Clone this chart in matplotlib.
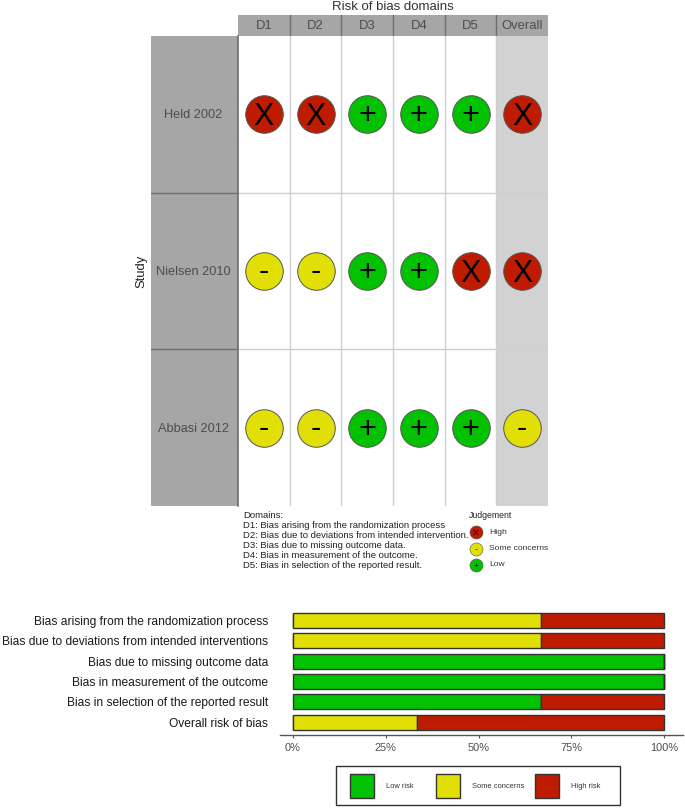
import numpy as np
import matplotlib
matplotlib.use("Agg")
import matplotlib.pyplot as plt
from matplotlib.patches import Rectangle

plt.rcParams["font.family"] = ["Liberation Sans", "DejaVu Sans"]

W, H = 685, 808
studies = ["Held 2002", "Nielsen 2010", "Abbasi 2012"]
domains = ["D1", "D2", "D3", "D4", "D5", "Overall"]
held = ["High", "High", "Low", "Low", "Low", "High"]
nielsen = ["Some", "Some", "Low", "Low", "High", "High"]
abbasi = ["Some", "Some", "Low", "Low", "Low", "Some"]
judgements = [held, nielsen, abbasi]

domain_notes = ["Domains:",
                "D1: Bias arising from the randomization process",
                "D2: Bias due to deviations from intended intervention.",
                "D3: Bias due to missing outcome data.",
                "D4: Bias in measurement of the outcome.",
                "D5: Bias in selection of the reported result."]

bar_labels = ["Bias arising from the randomization process",
              "Bias due to deviations from intended interventions",
              "Bias due to missing outcome data",
              "Bias in measurement of the outcome",
              "Bias in selection of the reported result",
              "Overall risk of bias"]
low_pct = [0, 0, 100, 100, 66.7, 0]
some_pct = [66.7, 66.7, 0, 0, 0, 33.3]
high_pct = [33.3, 33.3, 0, 0, 33.3, 66.7]

colors = {"High": "#BF1B00", "Some": "#E2DF07", "Low": "#02C100"}
symbols = {"High": "X", "Some": "-", "Low": "+"}
sym_drop = {"High": -8.0, "Some": -6.5, "Low": -7.2}  # points below the circle centre
grey = "#a6a6a6"
text_c = "#4d4d4d"

def px_axes(x0, y0, x1, y1):
    # pixel box, y measured from the top like in the reference
    return fig.add_axes([x0/W, 1-y1/H, (x1-x0)/W, (y1-y0)/H])

fig = plt.figure(figsize=(W/100, H/100), dpi=100)

# ---- traffic light panel ----
ax = px_axes(238, 36, 548, 506)
ax.set_xlim(0, 6); ax.set_ylim(3, 0)
ax.axvspan(5, 6, color="#d2d2d2", lw=0, zorder=0)
for i in range(1, 6): ax.axvline(i, color="#cfcfcf", lw=1.0, zorder=1)
for i in range(1, 3): ax.axhline(i, color="#cfcfcf", lw=1.0, zorder=1)
for r, row in enumerate(judgements):
    for c, j in enumerate(row):
        ax.scatter(c+0.5, r+0.5, s=730, color=colors[j], edgecolor="#555555", lw=0.7, zorder=3)
        ax.annotate(symbols[j], (c+0.5, r+0.5), xytext=(0, sym_drop[j]), textcoords="offset points",
                    fontsize=22, ha="center", va="baseline", color="black", zorder=4, annotation_clip=False)
ax.set_xticks([]); ax.set_yticks([])
for s in ax.spines.values(): s.set_visible(False)

# header strip
hd = px_axes(238, 15, 548, 36)
hd.set_xlim(0, 6); hd.set_ylim(0, 1); hd.set_facecolor(grey)
for i in range(1, 6): hd.axvline(i, color="#6e6e6e", lw=1)
for c, d in enumerate(domains):
    hd.text(c+0.5, 0.47, d, fontsize=9.4, ha="center", va="center", color=text_c)
hd.set_xticks([]); hd.set_yticks([])
for s in hd.spines.values(): s.set_visible(False)
fig.text(393/W, 1-7.5/H, "Risk of bias domains", fontsize=9.5, ha="center", va="center", color="#333333")

# study strip
st = px_axes(151, 36, 238, 506)
st.set_xlim(0, 1); st.set_ylim(3, 0); st.set_facecolor(grey)
for i in range(1, 3): st.axhline(i, color="#6e6e6e", lw=1)
for r, s_name in enumerate(studies):
    st.text(0.485, r+0.506, s_name, fontsize=9.2, ha="center", va="center", color=text_c)
st.set_xticks([]); st.set_yticks([])
for s in st.spines.values(): s.set_visible(False)
st.spines["right"].set_visible(True); st.spines["right"].set_color("#6e6e6e"); st.spines["right"].set_linewidth(1.2)
fig.text(141/W, 1-271/H, "Study", fontsize=9.4, rotation=90, ha="center", va="center", color="#222222")

# notes and judgement legend
for i, line in enumerate(domain_notes):
    fig.text(243/W, 1-(515+i*10.2)/H, line, fontsize=6.8, ha="left", va="center", color="#222222")
fig.text(469/W, 1-516/H, "Judgement", fontsize=6.3, ha="left", va="center", color="#222222")
leg_names = ["High", "Some concerns", "Low"]
lg = px_axes(465, 524, 555, 573)
lg.set_xlim(0, 90); lg.set_ylim(3, 0); lg.axis("off")
for i, k in enumerate(["High", "Some", "Low"]):
    lg.scatter(11, i+0.5, s=88, color=colors[k], edgecolor="#555555", lw=0.4, zorder=2)
    lg.annotate(symbols[k], (11, i+0.5), xytext=(0, -2.2), textcoords="offset points",
                fontsize=6, ha="center", va="baseline", color="black", zorder=3)
    lg.text(24, i+0.5, leg_names[i], fontsize=6.1, ha="left", va="center", color="#333333")

# ---- summary bars ----
bx = px_axes(280, 610, 683, 735)
y = np.arange(len(bar_labels))
left_some = np.array(low_pct)
left_high = left_some + np.array(some_pct)
for vals, left, k in [(low_pct, 0, "Low"), (some_pct, left_some, "Some"), (high_pct, left_high, "High")]:
    bx.barh(y, vals, left=left, height=0.73, color=colors[k], edgecolor="#333333", lw=1.0)
bx.set_xlim(-3.5, 105.1); bx.set_ylim(5.62, -0.5)
bx.set_yticks(y); bx.set_yticklabels(bar_labels, fontsize=8.65, color="#1a1a1a")
bx.tick_params(axis="y", length=0, pad=8.5)
bx.set_xticks([0, 25, 50, 75, 100]); bx.set_xticklabels(["0%", "25%", "50%", "75%", "100%"], fontsize=7.9, color=text_c)
bx.tick_params(axis="x", length=2.5, width=0.8, color="#555555", pad=3.5)
for n in ["top", "left", "right"]: bx.spines[n].set_visible(False)
bx.spines["bottom"].set_color("#555555"); bx.spines["bottom"].set_linewidth(1.0)

# bar legend
fig.add_artist(Rectangle((336/W, 1-805/H), 284/W, 39/H, transform=fig.transFigure, fc="white", ec="#333333", lw=1.0))
swatches = [(350, "Low", "Low risk", 386), (436, "Some", "Some concerns", 472), (535, "High", "High risk", 571)]
for x0, k, lab, xt in swatches:
    fig.add_artist(Rectangle((x0/W, 1-798/H), 24/W, 24/H, transform=fig.transFigure, fc=colors[k], ec="#333333", lw=1.0))
    fig.text(xt/W, 1-786/H, lab, fontsize=5.4, ha="left", va="center", color="#333333")

fig.savefig("out.png", dpi=100)
